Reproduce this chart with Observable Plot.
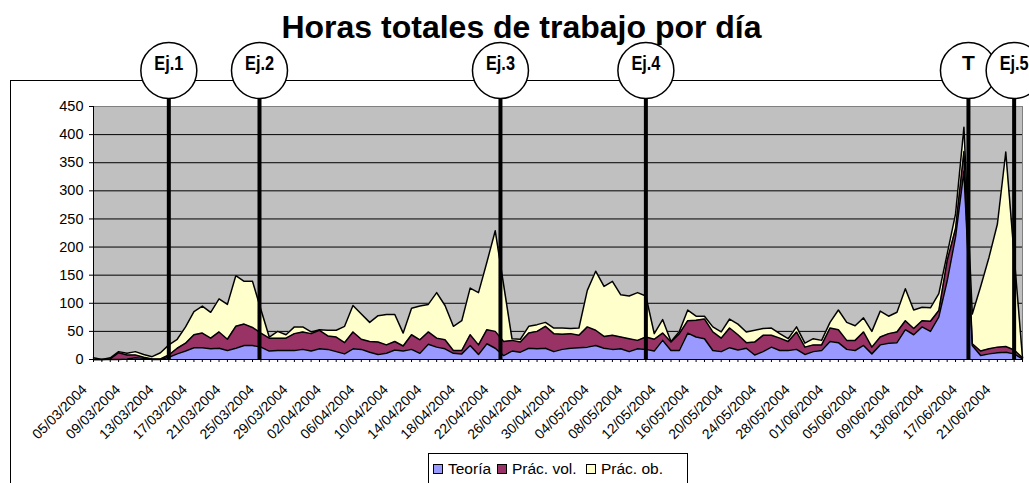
<!DOCTYPE html>
<html>
<head>
<meta charset="utf-8">
<script src="https://cdn.jsdelivr.net/npm/d3@7"></script>
<script src="https://cdn.jsdelivr.net/npm/@observablehq/plot@0.6"></script>
<style>
  html, body { margin: 0; padding: 0; background: #fff; }
  body { width: 1029px; height: 483px; overflow: hidden; position: relative; font-family: "Liberation Sans", Arial, sans-serif; }
  #frame { position: absolute; left: 10px; top: 80px; width: 1100px; height: 600px; border: 1px solid #000; }
  #chart { position: absolute; left: 0; top: 0; }
  #title { position: absolute; left: 0; top: 11px; width: 1043px; text-align: center; font-weight: bold; font-size: 32px; line-height: 32px; color: #000; }
  #legend { position: absolute; left: 428px; top: 453px; width: 258px; height: 60px; border: 1px solid #000; background: #fff; }
  .item { position: absolute; top: 6px; display: flex; align-items: center; font-size: 15.5px; line-height: 18px; }
  .sw { width: 8px; height: 8px; border: 1px solid #000; margin-right: 5px; }
</style>
</head>
<body>
<div id="frame"></div>
<div id="chart"></div>
<div id="title">Horas totales de trabajo por día</div>
<div id="legend"></div>
<script>
// ---- data ----
const startDay = "05/03/2004";
const endDay = "24/06/2004";
const seriesNames = ["Teoría", "Prác. vol.", "Prác. ob."];
const seriesColors = ["#9999FF", "#993366", "#FFFFCC"];

const teoria = [
  0,0,0,0,1,3,2,0,0,4,
  10,15,21,21,19,20,16,20,25,25,
  22,15,16,16,16,18,15,19,18,14,
  10,19,18,13,9,11,17,15,18,11,
  27,22,19,11,10,25,9,28,20,7,
  15,13,20,19,20,14,18,20,21,22,
  25,20,18,19,14,19,18,15,34,16,
  16,47,40,37,16,14,21,17,20,8,
  14,22,16,16,18,9,14,16,32,30,
  18,16,25,10,26,29,30,53,44,58,
  50,76,140,218,335,25,7,10,12,13,
  10,1];
const practVol = [
  0,0,1,12,7,5,2,1,1,4,
  10,14,23,26,19,29,20,39,38,32,
  25,23,22,22,30,31,31,33,24,26,
  20,30,18,19,22,15,15,9,26,24,
  22,16,16,5,6,19,17,25,30,25,
  19,18,27,31,39,32,27,26,22,36,
  27,21,25,21,23,15,22,21,13,15,
  30,22,30,35,33,24,35,27,10,23,
  29,21,22,16,31,13,12,10,24,23,
  16,18,24,12,14,17,19,16,11,11,
  18,11,36,15,35,3,8,9,10,10,
  7,2];
const practOb = [
  3,0,2,2,3,6,5,4,11,18,
  16,29,41,48,46,59,62,90,76,82,
  42,2,12,6,12,9,3,1,10,12,
  29,47,45,34,47,54,48,23,47,60,
  49,81,61,43,53,83,93,120,179,101,
  3,5,12,12,7,10,11,9,13,65,
  105,89,96,75,76,85,73,10,24,1,
  4,19,7,5,9,11,16,19,19,21,
  12,13,8,5,9,7,11,8,10,35,
  32,26,25,28,46,31,35,57,33,24,
  24,30,12,26,43,53,115,163,219,346,
  168,0];

const tickLabels = [
  "05/03/2004","09/03/2004","13/03/2004","17/03/2004","21/03/2004","25/03/2004","29/03/2004",
  "02/04/2004","06/04/2004","10/04/2004","14/04/2004","18/04/2004","22/04/2004","26/04/2004",
  "30/04/2004","04/05/2004","08/05/2004","12/05/2004","16/05/2004","20/05/2004","24/05/2004",
  "28/05/2004","01/06/2004","05/06/2004","09/06/2004","13/06/2004","17/06/2004","21/06/2004"];
const yTicks = [0, 50, 100, 150, 200, 250, 300, 350, 400, 450];

const markerLabels = ["Ej.1", "Ej.2", "Ej.3", "Ej.4", "T", "Ej.5"];
const markerTimes = ["2004-03-14T00:00Z", "2004-03-24T20:00Z", "2004-04-22T15:00Z", "2004-05-10T00:00Z", "2004-06-17T13:00Z", "2004-06-23T00:00Z"];

// ---- build ----
const parse = d3.utcParse("%d/%m/%Y");
const fmt = d3.utcFormat("%d/%m/%Y");
const dates = d3.utcDay.range(parse(startDay), d3.utcDay.offset(parse(endDay), 1));
const seriesValues = [teoria, practVol, practOb];
const rows = [];
seriesNames.forEach((s, k) => dates.forEach((d, i) => rows.push({date: d, series: s, value: seriesValues[k][i]})));
const markers = markerLabels.map((l, i) => ({label: l, date: new Date(markerTimes[i])}));
const labelDates = tickLabels.map(parse);

const font = '"Liberation Sans", Arial, sans-serif';
const chart = Plot.plot({
  width: 1029,
  height: 483,
  marginLeft: 93,
  marginRight: 7,
  marginTop: 106,
  marginBottom: 124,
  style: {fontFamily: font, fontSize: "14px", background: "transparent", overflow: "visible", color: "#000"},
  x: {type: "utc", domain: [dates[0], dates[dates.length - 1]], label: null},
  y: {domain: [0, 450], label: null},
  color: {domain: seriesNames, range: seriesColors},
  marks: [
    Plot.frame({fill: "#C0C0C0", stroke: "#808080"}),
    Plot.gridY(yTicks.filter(v => v > 0 && v < 450), {stroke: "#000", strokeOpacity: 1, strokeWidth: 1}),
    Plot.areaY(rows, {x: "date", y: "value", z: "series", fill: "series"}),
    Plot.lineY(rows, Plot.stackY2({x: "date", y: "value", z: "series", stroke: "#000", strokeWidth: 1.5})),
    Plot.ruleY([0], {stroke: "#000"}),
    Plot.ruleX([dates[0]], {stroke: "#000"}),
    Plot.axisY({ticks: yTicks, tickSize: 4, tickPadding: 6, fontSize: 14.5, label: null}),
    Plot.axisX({ticks: dates, tickSize: 3, tickFormat: () => "", label: null}),
    Plot.axisX({ticks: labelDates, tickSize: 0, tickFormat: fmt, tickRotate: -45, fontSize: 14, dx: -9, dy: 16, label: null}),
    Plot.ruleX(markers, {x: "date", stroke: "#000", strokeWidth: 4, insetTop: -8}),
    Plot.dot(markers, {x: "date", frameAnchor: "top", dy: -36, r: 28, fill: "#fff", stroke: "#000", strokeWidth: 1.5}),
    Plot.text(markers, {x: "date", text: "label", frameAnchor: "top", dy: -51, fontWeight: "bold", fontSize: 21, fill: "#000", className: "marker-label"})
  ]
});
document.getElementById("chart").appendChild(chart);
// condense the marker labels like the narrow bold face in the reference
chart.querySelectorAll(".marker-label text").forEach(t => {
  if (t.textContent.length > 1) {
    t.setAttribute("textLength", "29");
    t.setAttribute("lengthAdjust", "spacingAndGlyphs");
  }
});

// legend
const legend = document.getElementById("legend");
const itemLeft = [4, 68, 157];
seriesNames.forEach((s, k) => {
  const it = document.createElement("div");
  it.className = "item";
  it.style.left = itemLeft[k] + "px";
  const sw = document.createElement("span");
  sw.className = "sw";
  sw.style.background = seriesColors[k];
  const tx = document.createElement("span");
  tx.textContent = s;
  it.appendChild(sw);
  it.appendChild(tx);
  legend.appendChild(it);
});
</script>
</body>
</html>
